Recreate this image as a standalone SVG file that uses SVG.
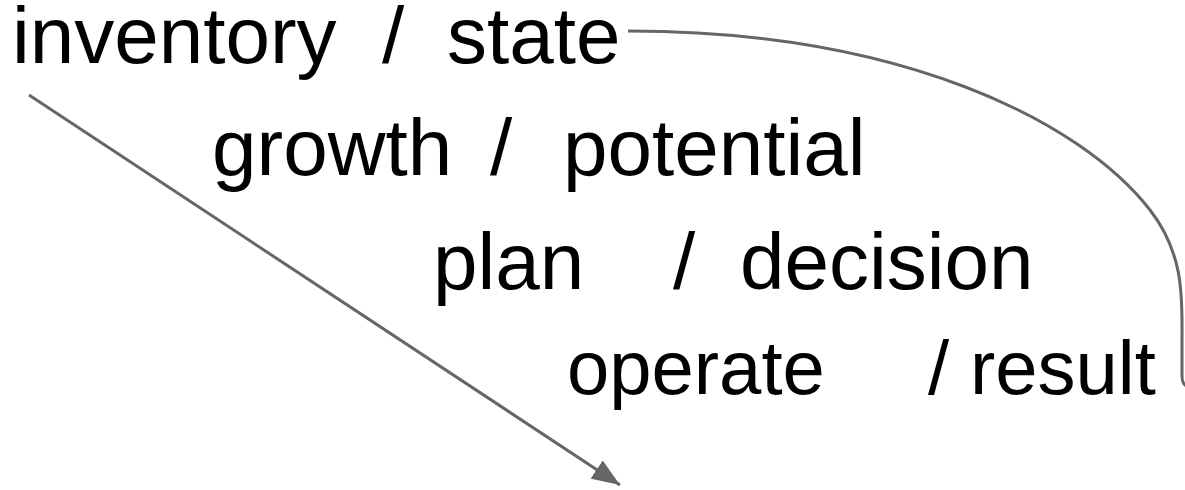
<svg xmlns="http://www.w3.org/2000/svg" width="1185" height="490" viewBox="0 0 1185 490">
<style>
text{font-family:"Liberation Sans",Arial,sans-serif;font-size:80px;fill:#000}
.c{fill:none;stroke:#666;stroke-width:3}
</style>
<defs>
<marker id="ah" markerWidth="28" markerHeight="22" refX="28" refY="11" orient="auto" markerUnits="userSpaceOnUse" viewBox="0 0 28 22">
<path d="M0,0 L28,11 L0,22 z" fill="#666"/>
</marker>
</defs>
<rect width="1185" height="490" fill="#fff"/>
<g id="connectors">
<path class="c" d="M628,31 C900,31 1080,120 1150,210 C1185,255 1182,300 1182,340 L1182,375 Q1182,385 1187,386"/>
<line class="c" x1="29" y1="95" x2="620" y2="485" marker-end="url(#ah)"/>
</g>
<g id="n1"><text x="12" y="63"><tspan>inventory</tspan><tspan x="382">/</tspan><tspan x="447">state</tspan></text></g>
<g id="n2"><text x="212" y="175"><tspan>growth</tspan><tspan x="490">/</tspan><tspan x="563">potential</tspan></text></g>
<g id="n3"><text x="433" y="289"><tspan>plan</tspan><tspan x="673">/</tspan><tspan x="740">decision</tspan></text></g>
<g id="n4"><text x="567" y="394" style="font-size:76px"><tspan>operate</tspan><tspan x="928">/</tspan><tspan x="970">result</tspan></text></g>
</svg>
